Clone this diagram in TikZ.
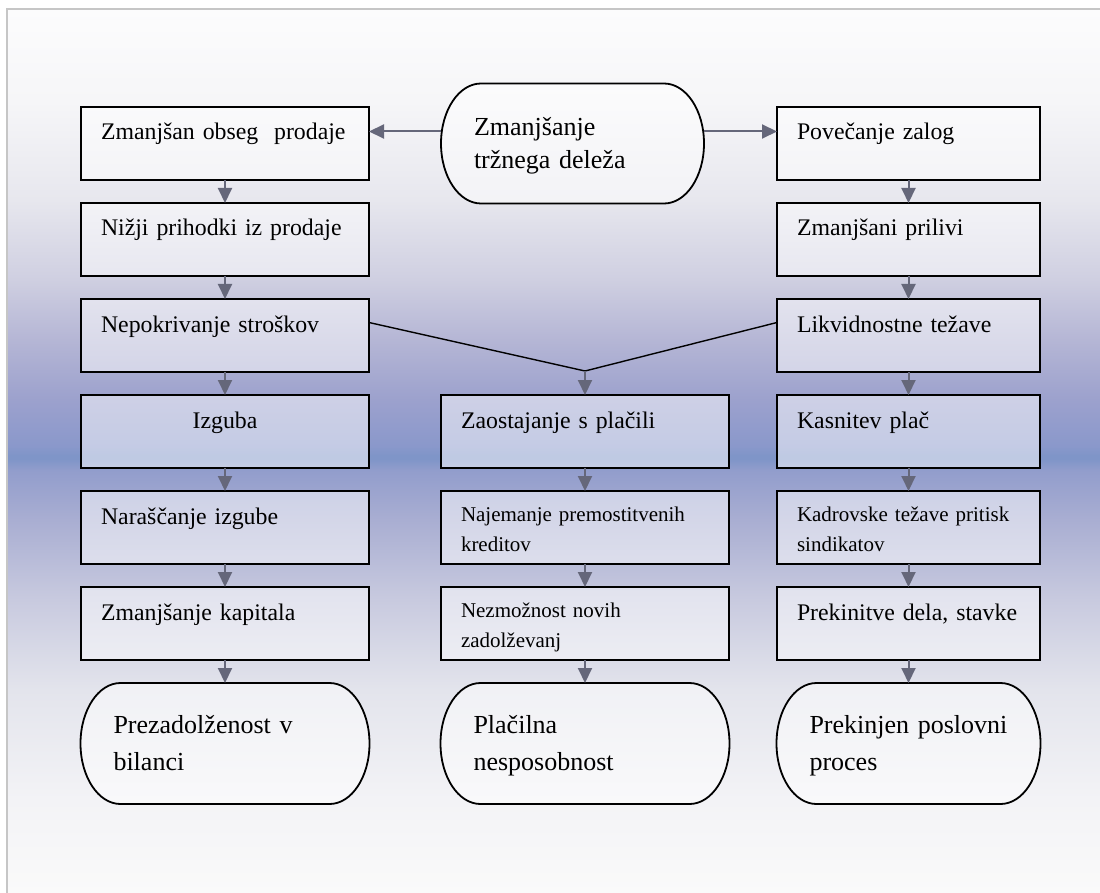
\documentclass[tikz,border=0pt]{standalone}
\usepackage{fontspec}
\setmainfont{Liberation Serif}
\usetikzlibrary{arrows.meta, calc}
\definecolor{robsiv}{HTML}{C6C6C6}
\definecolor{strelsiv}{HTML}{65677A}
\definecolor{pz0}{HTML}{FAFAFA}
\definecolor{pz1}{HTML}{F3F3F6}
\definecolor{pz2}{HTML}{E3E4EC}
\definecolor{pz3}{HTML}{C8CADF}
\definecolor{pz4}{HTML}{A9AED2}
\definecolor{pz5}{HTML}{929DCC}
\definecolor{pas}{HTML}{7F95C8}
\definecolor{pz6}{HTML}{8A98CB}
\definecolor{pz7}{HTML}{9CA1CD}
\definecolor{pz8}{HTML}{B5B6D5}
\definecolor{pz9}{HTML}{CFCFE1}
\definecolor{pz10}{HTML}{E7E7EE}
\definecolor{pz11}{HTML}{F6F6F8}
\definecolor{pz12}{HTML}{FCFCFD}
\pgfdeclareverticalshading{pozadina}{100bp}{color(0bp)=(pz0); color(25bp)=(pz0);
  color(30.3bp)=(pz1); color(36.5bp)=(pz2); color(41.6bp)=(pz3); color(46.1bp)=(pz4);
  color(48.9bp)=(pz5); color(49.55bp)=(pas); color(49.75bp)=(pas); color(50.3bp)=(pz6);
  color(52.9bp)=(pz7); color(56.3bp)=(pz8); color(59.7bp)=(pz9); color(64.2bp)=(pz10);
  color(69.8bp)=(pz11); color(75bp)=(pz12); color(100bp)=(pz12)}
\pgfdeclarelayer{spodaj}
\pgfsetlayers{spodaj,main}
% obris stadiona okoli vozlisca
\newcommand{\obris}[1]{%
  \begin{pgfonlayer}{spodaj}
  \draw[obrisna] let \p1=($(#1.north)-(#1.south)$) in
    ([xshift=40pt]#1.north west) -- ([xshift=-40pt]#1.north east)
    arc[start angle=90, end angle=-90, x radius=40pt, y radius=0.5*\y1]
    -- ([xshift=40pt]#1.south west)
    arc[start angle=270, end angle=90, x radius=40pt, y radius=0.5*\y1] -- cycle;
  \end{pgfonlayer}}

\begin{document}
\begin{tikzpicture}[x=1pt, y=1pt,
  polje/.style={draw, line width=1.8pt, fill=white, fill opacity=.5, text opacity=1,
    outer sep=0pt, inner ysep=0pt, inner xsep=20pt, minimum height=73pt,
    text height=33pt, text depth=40pt, text width=248pt, align=left,
    font=\fontsize{23.8}{30}\selectfont},
  ozko/.style={text width=223pt},
  drobno/.style={font=\fontsize{21}{30}\selectfont, text height=30pt, text depth=43pt},
  terminal/.style={outer sep=0pt, inner ysep=0pt, inner xsep=33pt, align=left,
    text height=50pt, text depth=71pt, text width=223pt,
    font=\fontsize{26}{37}\selectfont},
  obrisna/.style={draw, line width=1.8pt, fill=white, fill opacity=.5},
  puscica/.style={-{Triangle[width=14pt,length=15pt]}, line width=2pt, strelsiv},
  crta/.style={line width=1.4pt}]
  \useasboundingbox (0,0) rectangle (1100,-893);

  % Ozadje
  \begin{pgfonlayer}{spodaj}
    \fill[white] (0,0) rectangle (1100,-893);
    \shade[shading=pozadina] (7,-9) rectangle (1100,-893);
    \draw[line width=2pt, robsiv] (7,-893) -- (7,-9) -- (1100,-9);
  \end{pgfonlayer}

  % Izhodisce
  \node[terminal, text width=197pt, text height=52pt, text depth=68pt,
    font=\fontsize{26}{33}\selectfont] (vrh) at (572.5,-143.5) {Zmanjšanje\\tržnega deleža};
  \obris{vrh}

  % Levi stolpec
  \node[polje] (prodaja) at (225,-143.5) {Zmanjšan obseg\ \ prodaje};
  \node[polje] (prihodki) at (225,-239.5) {Nižji prihodki iz prodaje};
  \node[polje] (stroski) at (225,-335.5) {Nepokrivanje stroškov};
  \node[polje, align=center] (izguba) at (225,-431.5) {Izguba};
  \node[polje] (narascanje) at (225,-527.5) {Naraščanje izgube};
  \node[polje] (kapital) at (225,-623.5) {Zmanjšanje kapitala};

  % Srednji stolpec
  \node[polje] (zaostajanje) at (585,-431.5) {Zaostajanje s plačili};
  \node[polje, drobno] (krediti) at (585,-527.5) {Najemanje premostitvenih\\kreditov};
  \node[polje, drobno] (zadolzevanje) at (585,-623.5) {Nezmožnost novih\\zadolževanj};

  % Desni stolpec
  \node[polje, ozko] (zaloge) at (908.5,-143.5) {Povečanje zalog};
  \node[polje, ozko] (prilivi) at (908.5,-239.5) {Zmanjšani prilivi};
  \node[polje, ozko] (likvid) at (908.5,-335.5) {Likvidnostne težave};
  \node[polje, ozko] (place) at (908.5,-431.5) {Kasnitev plač};
  \node[polje, ozko, drobno] (kadri) at (908.5,-527.5) {Kadrovske težave pritisk\\sindikatov};
  \node[polje, ozko] (stavke) at (908.5,-623.5) {Prekinitve dela, stavke};

  % Posledice
  \node[terminal, minimum width=289pt] (prezadolzenost) at (225,-743.5) {Prezadolženost v\\bilanci};
  \obris{prezadolzenost}
  \node[terminal] (placilna) at (585,-743.5) {Plačilna\\nesposobnost};
  \obris{placilna}
  \node[terminal, text width=198pt] (proces) at (908.5,-743.5) {Prekinjen poslovni\\proces};
  \obris{proces}

  % Puscice
  \draw[puscica] ([yshift=12pt]vrh.west) -- ([yshift=12pt]prodaja.east);
  \draw[puscica] ([yshift=12pt]vrh.east) -- ([yshift=12pt]zaloge.west);
  \foreach \a/\b in {prodaja/prihodki, prihodki/stroski, stroski/izguba, izguba/narascanje,
      narascanje/kapital, kapital/prezadolzenost, zaostajanje/krediti, krediti/zadolzevanje,
      zadolzevanje/placilna, zaloge/prilivi, prilivi/likvid, likvid/place, place/kadri,
      kadri/stavke, stavke/proces}
    \draw[puscica] (\a) -- (\b);

  % Stik v sredini
  \coordinate (stik) at (585,-371);
  \draw[crta] ([yshift=13pt]stroski.east) -- (stik) -- ([yshift=13pt]likvid.west);
  \draw[puscica] (stik) -- (zaostajanje);
\end{tikzpicture}
\end{document}
